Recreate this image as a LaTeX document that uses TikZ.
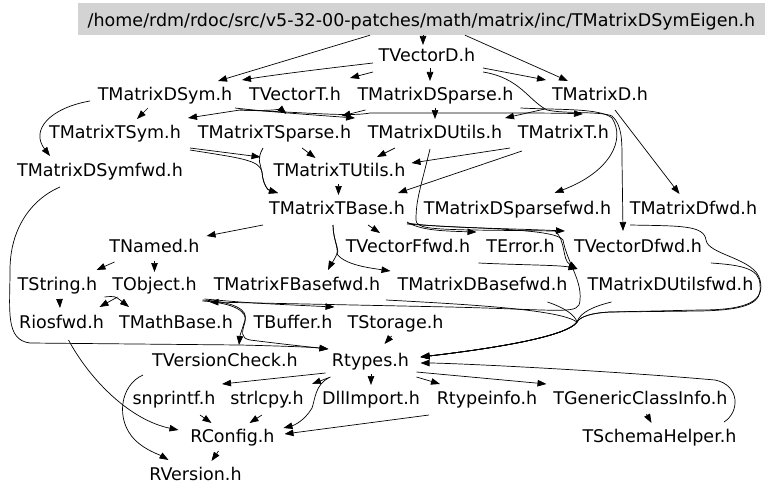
\documentclass[tikz,border=0pt]{standalone}
\usepackage{fontspec}
\setmainfont{DejaVu Sans}
\usetikzlibrary{arrows.meta,calc}
\definecolor{rootfill}{RGB}{211,211,211}
\begin{document}
\begin{tikzpicture}[x=1pt,y=-1pt,
  lbl/.style={inner sep=0pt,anchor=base,font=\fontsize{17.5pt}{20pt}\selectfont},
  e/.style={line width=0.7pt,-{Triangle[length=9pt,width=6.5pt]}}]
\useasboundingbox (0,0) rectangle (768,495);
\node[fill=rootfill,inner sep=0pt,minimum width=687pt,minimum height=32pt,text height=19pt,text depth=4pt,font=\fontsize{17.5pt}{20pt}\selectfont] (root) at (421.5,19) {/home/rdm/rdoc/src/v5-32-00-patches/math/matrix/inc/TMatrixDSymEigen.h};
\node[lbl] (vd) at (427,62) {TVectorD.h};
\node[lbl] (dsym) at (165,100) {TMatrixDSym.h};
\node[lbl] (vt) at (295,100) {TVectorT.h};
\node[lbl] (dsp) at (435.5,100) {TMatrixDSparse.h};
\node[lbl] (md) at (600,100) {TMatrixD.h};
\node[lbl] (tsym) at (115,138) {TMatrixTSym.h};
\node[lbl] (tsp) at (274.5,138) {TMatrixTSparse.h};
\node[lbl] (dut) at (435,138) {TMatrixDUtils.h};
\node[lbl] (mt) at (563.5,138) {TMatrixT.h};
\node[lbl] (dsymf) at (100,176) {TMatrixDSymfwd.h};
\node[lbl] (tut) at (339.5,176) {TMatrixTUtils.h};
\node[lbl] (tbase) at (337,214) {TMatrixTBase.h};
\node[lbl] (dspf) at (517.5,214) {TMatrixDSparsefwd.h};
\node[lbl] (mdf) at (693.5,214) {TMatrixDfwd.h};
\node[lbl] (named) at (154.5,252) {TNamed.h};
\node[lbl] (vff) at (408,252) {TVectorFfwd.h};
\node[lbl] (err) at (520.5,252) {TError.h};
\node[lbl] (vdf) at (638,252) {TVectorDfwd.h};
\node[lbl] (str) at (57.5,290) {TString.h};
\node[lbl] (obj) at (154.5,290) {TObject.h};
\node[lbl] (fbf) at (297,290) {TMatrixFBasefwd.h};
\node[lbl] (dbf) at (482.5,290) {TMatrixDBasefwd.h};
\node[lbl] (dutf) at (670.5,290) {TMatrixDUtilsfwd.h};
\node[lbl] (rios) at (61.5,328) {Riosfwd.h};
\node[lbl] (mbase) at (176,328) {TMathBase.h};
\node[lbl] (buf) at (293,328) {TBuffer.h};
\node[lbl] (stor) at (395.5,328) {TStorage.h};
\node[lbl] (vcheck) at (225,366) {TVersionCheck.h};
\node[lbl] (rtypes) at (370.5,366) {Rtypes.h};
\node[lbl] (snp) at (174,404) {snprintf.h};
\node[lbl] (strl) at (267,404) {strlcpy.h};
\node[lbl] (dll) at (371,404) {DllImport.h};
\node[lbl] (rti) at (487,404) {Rtypeinfo.h};
\node[lbl] (gci) at (640.5,404) {TGenericClassInfo.h};
\node[lbl] (rconf) at (232.5,442) {RConfig.h};
\node[lbl] (schema) at (659.5,442) {TSchemaHelper.h};
\node[lbl] (rver) at (195.5,480) {RVersion.h};
% root
\draw[e] ($(root.south)+(1.5,0)$) -- ($(vd.base)+(-4,-17)$);
\draw[e] ($(root.south)+(-51.5,0)$) -- ($(dsym.base)+(53,-19)$);
\draw[e] ($(root.south)+(43.5,0)$) -- ($(md.base)+(-32,-19)$);
% TVectorD
\draw[e] ($(vd.base)+(-54,1)$) .. controls (330,68) and (280,74) .. ($(dsym.base)+(77,-20)$);
\draw[e] ($(vd.base)+(-54,10)$) -- ($(vt.base)+(55,-22)$);
\draw[e] ($(vd.base)+(3,6)$) -- ($(dsp.base)+(-5.5,-19)$);
\draw[e] ($(vd.base)+(56,6)$) -- ($(md.base)+(-54,-20)$);
\draw[e] ($(vd.base)+(56,10)$) .. controls (520,78) and (528,100) .. (547,110) .. controls (565,114) and (600,111) .. (612,116) .. controls (622,125) and (622,140) .. (622,160) -- ($(vdf.base)+(-15,-21)$);
% second row
\draw[e] ($(dsp.base)+(85,8)$) .. controls (560,110) and (600,108) .. (612,118) .. controls (626,140) and (610,172) .. ($(dspf.base)+(37,-21)$);
\draw[e] ($(md.base)+(-55,9)$) -- ($(dut.base)+(70,-20)$);
\draw[e] ($(md.base)+(15,10)$) -- ($(mdf.base)+(-14,-20)$);
\draw[e] ($(dsym.base)+(-17,8)$) -- ($(tsym.base)+(22,-19)$);
\draw[e] ($(dsym.base)+(-75,1)$) .. controls (50,108) and (30,130) .. ($(dsymf.base)+(-50,-20)$);
\draw[e] ($(vt.base)+(-55,10)$) -- ($(tsym.base)+(73,-20)$);
\draw[e] ($(vt.base)+(-55,10)$) .. controls (265,111) and (282,110) .. ($(tsp.base)+(12,-24)$);
\draw[e] ($(dsym.base)+(70,8)$) .. controls (260,111) and (300,114) .. ($(dut.base)+(-80,-20)$);
\draw[e] ($(vt.base)+(-55,10)$) .. controls (300,112) and (350,117) .. (370,113) -- (480,113) .. controls (530,113) and (560,113) .. ($(mt.base)+(19.5,-24)$);
\draw[e] ($(dsp.base)+(-70,10)$) -- ($(tsp.base)+(67,-22)$);
\draw[e] ($(dsp.base)+(-0.5,8)$) -- ($(dut.base)+(0,-19)$);
% third row
\draw[e] ($(tsym.base)+(75,10)$) -- ($(tut.base)+(-79,-19)$);
\draw[e] ($(tsym.base)+(75,12)$) .. controls (240,158) and (260,160) .. (262,172) .. controls (263,185) and (268,190) .. ($(tbase.base)+(-59,-21)$);
\draw[e] ($(tsp.base)+(-11.5,10)$) .. controls (256,160) and (261,165) .. (262,172) .. controls (263,185) and (268,190) .. ($(tbase.base)+(-59,-21)$);
\draw[e] ($(tsp.base)+(27.5,10)$) -- ($(tut.base)+(-24,-18)$);
\draw[e] ($(dut.base)+(-40,10)$) -- ($(tut.base)+(37.5,-19)$);
\draw[e] ($(mt.base)+(-53.5,10)$) -- ($(tut.base)+(72,-13)$);
\draw[e] ($(mt.base)+(-41.5,13)$) -- ($(tbase.base)+(61,-21)$);
\draw[e] ($(tut.base)+(-1,8)$) -- ($(tbase.base)+(1.5,-19)$);
\draw[e] ($(dut.base)+(-5,11)$) .. controls (420,190) and (416,200) .. (416,220) .. controls (416,228) and (430,229) .. (470,230) -- (555,231) .. controls (566,240) and (562,260) .. ($(dutf.base)+(-93,-21)$);
% TMatrixTBase
\draw[e] ($(tbase.base)+(70,8)$) .. controls (420,230) and (440,231) .. ($(err.base)+(-44,-20)$);
\draw[e] ($(tbase.base)+(70,9)$) .. controls (440,228) and (500,228) .. ($(vdf.base)+(-73,-21)$);
\draw[e] ($(tbase.base)+(70,10)$) .. controls (470,229) and (555,228) .. (563,240) .. controls (567,262) and (582,280) .. (580,300) .. controls (579,315) and (570,310) .. (450,307) -- ($(obj.base)+(55,12)$);
\draw[e] ($(tbase.base)+(-74,11)$) -- ($(named.base)+(52,-16)$);
\draw[e] ($(tbase.base)+(31,11)$) -- ($(vff.base)+(-28,-19)$);
\draw[e] ($(tbase.base)+(-4,11)$) .. controls (333,240) and (340,250) .. (336,256) .. controls (333,262) and (330,266) .. ($(fbf.base)+(31,-20)$);
\draw[e] ($(tbase.base)+(-4,11)$) .. controls (333,240) and (340,250) .. (337,254) .. controls (345,265) and (370,268) .. ($(dbf.base)+(-92,-19)$);
\draw[e] ($(err.base)+(-42,11)$) .. controls (520,265) and (560,265) .. ($(dutf.base)+(-93,-21)$);
% hub to Rtypes
\draw[e] ($(fbf.base)+(89,10)$) .. controls (480,305) and (560,310) .. (577,322) .. controls (566,338) and (480,350) .. ($(rtypes.base)+(50,-9)$);
\draw[e] ($(dbf.base)+(65,12)$) .. controls (565,308) and (575,315) .. (577,322) .. controls (566,338) and (480,350) .. ($(rtypes.base)+(50,-9)$);
\draw[e] ($(dutf.base)+(-59,12)$) .. controls (595,306) and (580,312) .. (577,322) .. controls (566,338) and (480,350) .. ($(rtypes.base)+(50,-9)$);
\draw[e] ($(mdf.base)+(-63.5,11)$) .. controls (680,226) and (704,225) .. (706,240) .. controls (708,255) and (755,258) .. (760,280) .. controls (765,300) and (750,310) .. (700,310) -- (610,312) .. controls (590,313) and (580,317) .. (577,322) .. controls (566,338) and (480,350) .. ($(rtypes.base)+(50,-9)$);
\draw[e] ($(vdf.base)+(73,11)$) .. controls (740,265) and (760,268) .. (760,285) .. controls (762,302) and (750,310) .. (700,311) -- (610,312) .. controls (590,313) and (580,317) .. (577,322) .. controls (566,338) and (480,350) .. ($(rtypes.base)+(50,-9)$);
% TObject etc
\draw[e] ($(named.base)+(-40,10)$) -- ($(str.base)+(39,-20)$);
\draw[e] ($(named.base)+(0,9)$) -- ($(obj.base)+(0,-18)$);
\draw[e] ($(str.base)+(2,9)$) -- ($(rios.base)+(-1.5,-20)$);
\draw[e] ($(str.base)+(47,7)$) .. controls (115,296) .. ($(mbase.base)+(-47,-21)$);
\draw[e] ($(obj.base)+(-37,7)$) -- ($(rios.base)+(38,-21)$);
\draw[e] ($(obj.base)+(50,9)$) .. controls (250,303) .. ($(stor.base)+(-61,-21)$);
\draw[e] ($(obj.base)+(48,10)$) .. controls (235,302) and (248,310) .. (245,320) .. controls (242,330) and (240,335) .. ($(vcheck.base)+(14,-21)$);
\draw[e] ($(obj.base)+(48,11)$) .. controls (235,303) and (248,312) .. (245,322) .. controls (242,332) and (240,338) .. (250,340) .. controls (290,345) and (310,347) .. ($(rtypes.base)+(-42,-17)$);
\draw[e] ($(dsymf.base)+(-40,11)$) .. controls (30,200) and (10,230) .. (10,270) .. controls (10,310) and (5,340) .. (30,343) -- (240,345) .. controls (280,346) and (310,347) .. ($(rtypes.base)+(-42,-17)$);
\draw[e] ($(stor.base)+(-4,8)$) -- ($(rtypes.base)+(14,-22)$);
\draw[e] ($(schema.base)+(64.5,-20)$) .. controls (740,412) and (740,385) .. (715,380) .. controls (600,370) and (450,363) .. ($(rtypes.base)+(50,-3)$);
% Rtypes
\draw[e] ($(rtypes.base)+(-45,7)$) -- ($(snp.base)+(48,-20)$);
\draw[e] ($(rtypes.base)+(-40,11)$) -- ($(strl.base)+(45,-20)$);
\draw[e] ($(rtypes.base)+(-42,12)$) .. controls (315,385) and (315,400) .. (312,408) .. controls (305,420) and (295,425) .. ($(rconf.base)+(51,-14)$);
\draw[e] ($(rtypes.base)+(0.5,8)$) -- ($(dll.base)+(0,-19)$);
\draw[e] ($(rtypes.base)+(46,11)$) -- ($(rti.base)+(-47,-20)$);
\draw[e] ($(rtypes.base)+(46,6)$) -- ($(gci.base)+(-94,-20)$);
\draw[e] ($(snp.base)+(26,11)$) -- ($(rconf.base)+(-21,-19)$);
\draw[e] ($(strl.base)+(-5,11)$) -- ($(rconf.base)+(17,-19)$);
\draw[e] ($(rti.base)+(-58,11)$) -- ($(rconf.base)+(52,-8)$);
\draw[e] ($(rconf.base)+(-14,9)$) -- ($(rver.base)+(16,-19)$);
\draw[e] ($(gci.base)+(6,10)$) -- ($(schema.base)+(-8,-19)$);
\draw[e] ($(vcheck.base)+(-82,9)$) .. controls (120,385) and (115,420) .. (135,440) .. controls (145,450) and (160,455) .. ($(rver.base)+(-27,-20)$);
\draw[e] ($(rios.base)+(7,12)$) .. controls (90,380) and (130,420) .. ($(rconf.base)+(-54,-12)$);
\end{tikzpicture}
\end{document}
